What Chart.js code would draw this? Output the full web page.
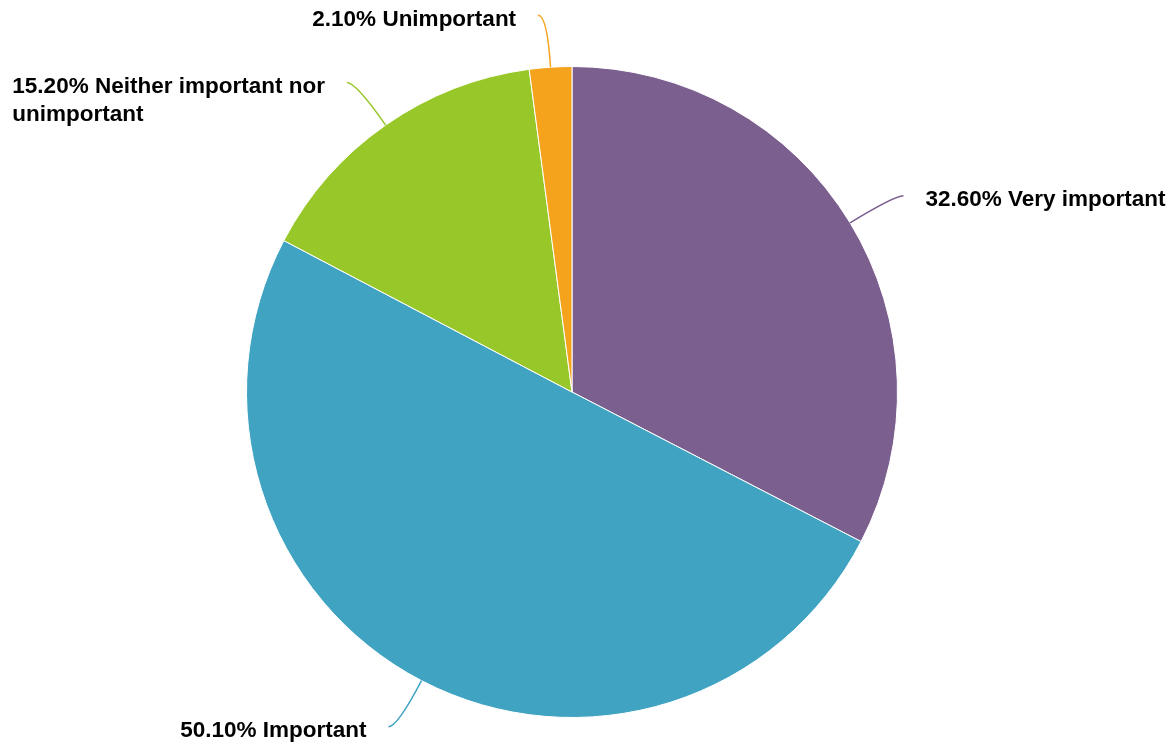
<!DOCTYPE html>
<html>
<head>
<meta charset="utf-8">
<script src="https://cdn.jsdelivr.net/npm/chart.js@4.4.1/dist/chart.umd.min.js"></script>
<style>
  html, body { margin: 0; padding: 0; background: #fff; }
  #wrap { width: 1174px; height: 747px; position: relative; }
</style>
</head>
<body>
<div id="wrap"><canvas id="chart-pie"></canvas></div>
<script>
var categories = ['Very important', 'Important', 'Neither important nor unimportant', 'Unimportant'];
var shares = [32.6, 50.1, 15.2, 2.1];
var sliceColors = ['#7b5f8e', '#41a3c2', '#97c728', '#f5a31c'];

// draws "xx.xx% label" with a curved leader line for each slice
var pieLabels = {
    id: 'pieLabels',
    afterDraw: function (chart) {
        var ctx = chart.ctx;
        var meta = chart.getDatasetMeta(0);
        ctx.save();
        ctx.font = 'bold 22.5px "Liberation Sans", Arial, sans-serif';
        ctx.textBaseline = 'middle';
        meta.data.forEach(function (arc, i) {
            var mid = (arc.startAngle + arc.endAngle) / 2;
            var cx = arc.x, cy = arc.y, r = arc.outerRadius;
            var dx = Math.cos(mid), dy = Math.sin(mid);
            var side = dx >= 0 ? 1 : -1;
            var x0 = cx + dx * r, y0 = cy + dy * r;
            var x1 = cx + dx * (r + 52), y1 = cy + dy * (r + 52);
            var x2 = x1 + side * 9, y2 = y1;

            ctx.strokeStyle = sliceColors[i];
            ctx.lineWidth = 1.5;
            ctx.beginPath();
            ctx.moveTo(x0, y0);
            ctx.quadraticCurveTo(x1, y1, x2, y2);
            ctx.stroke();

            // wrap label text
            var text = shares[i].toFixed(2) + '% ' + categories[i];
            var words = text.split(' ');
            var lines = [], cur = '';
            words.forEach(function (w) {
                var t = cur ? cur + ' ' + w : w;
                if (ctx.measureText(t).width > 330 && cur) {
                    lines.push(cur);
                    cur = w;
                } else {
                    cur = t;
                }
            });
            lines.push(cur);
            var maxW = 0;
            lines.forEach(function (l) { maxW = Math.max(maxW, ctx.measureText(l).width); });

            var tx = side > 0 ? x2 + 22 : x2 - 22 - maxW;
            ctx.fillStyle = '#000';
            ctx.textAlign = 'left';
            lines.forEach(function (l, k) {
                ctx.fillText(l, tx, y2 + 4 + k * 28);
            });
        });
        ctx.restore();
    }
};

new Chart(document.getElementById('chart-pie').getContext('2d'), {
    type: 'pie',
    data: {
        labels: categories,
        datasets: [{
            data: shares,
            backgroundColor: sliceColors,
            borderColor: '#ffffff',
            borderWidth: 1
        }]
    },
    options: {
        responsive: true,
        maintainAspectRatio: false,
        animation: false,
        layout: {
            padding: { top: 66, bottom: 29, left: 246, right: 276 }
        },
        plugins: {
            legend: { display: false },
            tooltip: { enabled: false }
        }
    },
    plugins: [pieLabels]
});
</script>
</body>
</html>
